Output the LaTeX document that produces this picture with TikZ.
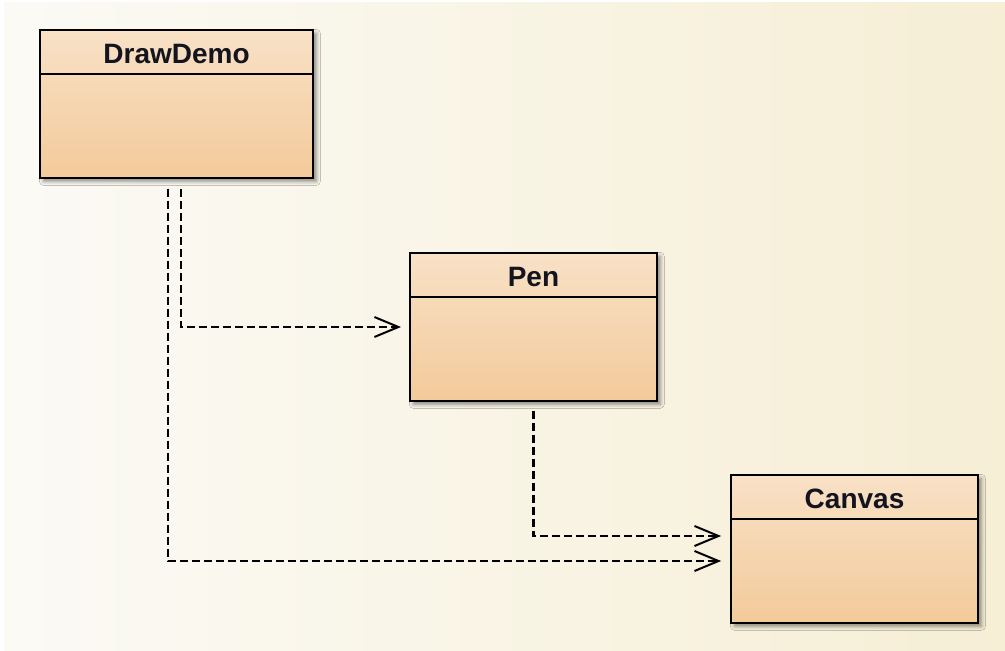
\documentclass[tikz,border=0pt]{standalone}
\usepackage{fontspec}
\newfontfamily\umlfont{Liberation Sans}
\usetikzlibrary{arrows.meta,shadows.blur}
\definecolor{umlTop}{RGB}{248,225,198}
\definecolor{umlBottom}{RGB}{243,202,155}
\definecolor{bgLeft}{RGB}{251,250,245}
\definecolor{bgRight}{RGB}{246,238,213}
\definecolor{umlText}{RGB}{20,20,30}
\begin{document}
\begin{tikzpicture}[x=1pt,y=1pt,
    umlClass/.style={draw=black,line width=1.4pt,top color=umlTop,bottom color=umlBottom,
        minimum width=185.25pt,minimum height=111pt,inner sep=0pt,
        blur shadow={shadow xshift=2.5pt,shadow yshift=-2.5pt,shadow blur radius=3pt,shadow opacity=45}},
    umlName/.style={font=\umlfont\bfseries\fontsize{21}{24}\selectfont,text=umlText,inner sep=0pt},
    umlSep/.style={line width=1.4pt},
    umlDep/.style={dash pattern=on 6pt off 3pt,line width=1.6pt,
        -{Straight Barb[length=18pt,width=15pt,line width=1.5pt]}},
]
% background
\fill[white] (0,0) rectangle (753.75,487.5);
\shade[left color=bgLeft,right color=bgRight] (3,0) rectangle (753.75,485.25);
% DrawDemo
\node[umlClass,minimum width=204.75pt] (drawdemo) at (132.4,409.5) {};
\draw[umlSep] ([yshift=-33.75pt]drawdemo.north west) -- ([yshift=-33.75pt]drawdemo.north east);
\node[umlName] (drawdemoName) at ([yshift=-18.5pt]drawdemo.north) {DrawDemo};
% Pen
\node[umlClass] (pen) at (400.1,242.25) {};
\draw[umlSep] ([yshift=-33.75pt]pen.north west) -- ([yshift=-33.75pt]pen.north east);
\node[umlName] (penName) at ([yshift=-18.5pt]pen.north) {Pen};
% Canvas
\node[umlClass] (canvas) at (640.9,75.75) {};
\draw[umlSep] ([yshift=-33.75pt]canvas.north west) -- ([yshift=-33.75pt]canvas.north east);
\node[umlName] (canvasName) at ([yshift=-18.5pt]canvas.north) {Canvas};
% dependencies
\draw[umlDep,shorten <=7.5pt,shorten >=6pt] ([xshift=3.4pt]drawdemo.south) |- (pen.west);
\draw[umlDep,shorten <=7.5pt,shorten >=6.75pt] ([xshift=-6.4pt]drawdemo.south) |- ([yshift=-9pt]canvas.west);
\draw[umlDep,shorten <=6.75pt,shorten >=6.75pt] (pen.south) |- ([yshift=9.75pt]canvas.west);
\end{tikzpicture}
\end{document}
